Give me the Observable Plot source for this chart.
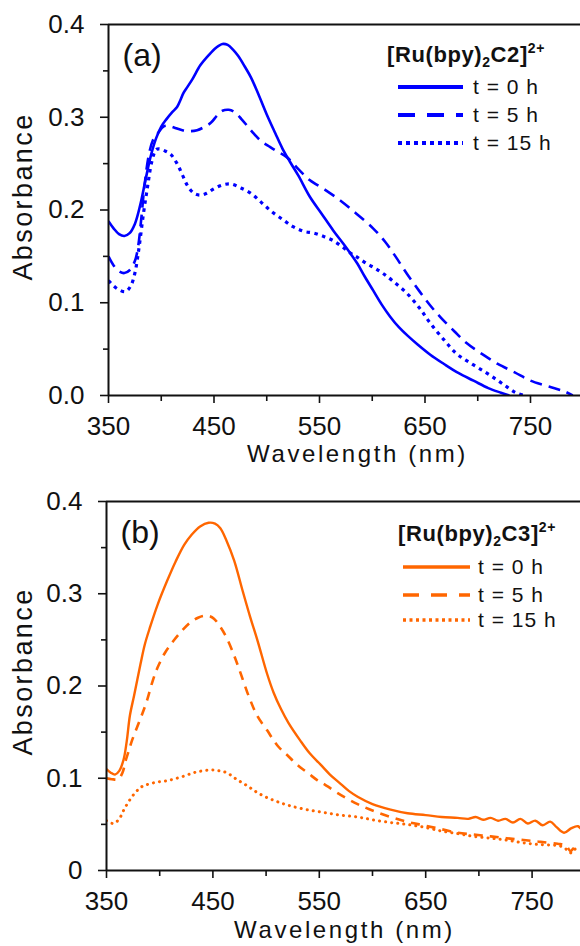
<!DOCTYPE html>
<html><head><meta charset="utf-8">
<script src="https://cdn.jsdelivr.net/npm/d3@7"></script>
<script src="https://cdn.jsdelivr.net/npm/@observablehq/plot@0.6"></script>
<style>
html,body{margin:0;padding:0;overflow:hidden;background:#fff;}
#chart svg{display:block;}
</style></head><body><div id="chart"></div>
<script>
// ---------- Data: panel (a) [Ru(bpy)2C2]2+ ----------
const wlA0  = [350,355,360,365,370,375,380,385,390,395,400,405,410,415,418,421,425,430,437,445,452,458,463,468,473,479,485,492,500,508,515,522,530,541,552,563,573,580,586,593,601,609,617,625,634,643,655,668,682,696,710,722,730];
const absA0 = [0.188,0.180,0.174,0.172,0.175,0.185,0.205,0.232,0.258,0.277,0.290,0.298,0.305,0.311,0.318,0.326,0.333,0.342,0.356,0.367,0.375,0.379,0.378,0.373,0.366,0.355,0.343,0.325,0.303,0.283,0.266,0.252,0.237,0.214,0.196,0.178,0.163,0.152,0.142,0.128,0.113,0.098,0.085,0.074,0.064,0.055,0.044,0.034,0.024,0.016,0.008,0.003,0.0];
const wlA5  = [350,355,360,365,370,375,378,381,384,388,392,397,402,406,412,420,428,434,440,447,453,458,464,469,476,482,488,495,503,510,519,530,541,555,570,585,601,612,622,633,645,655,665,678,690,705,719,735,750,763,775,783,790];
const absA5 = [0.150,0.140,0.134,0.132,0.135,0.145,0.160,0.190,0.225,0.258,0.275,0.283,0.290,0.291,0.289,0.286,0.285,0.286,0.289,0.294,0.302,0.307,0.308,0.306,0.298,0.290,0.282,0.274,0.268,0.263,0.257,0.244,0.232,0.222,0.210,0.196,0.180,0.166,0.150,0.131,0.112,0.097,0.084,0.069,0.056,0.044,0.034,0.025,0.016,0.011,0.007,0.004,0.0];
const wlA15  = [350,355,360,366,371,375,379,383,387,391,395,398,403,409,415,420,425,431,437,443,450,458,466,475,485,495,505,516,525,535,545,555,563,572,580,586,595,603,611,620,633,645,655,668,680,693,706,718,728,736,744];
const absA15 = [0.124,0.118,0.114,0.112,0.118,0.132,0.160,0.195,0.225,0.252,0.265,0.266,0.264,0.260,0.250,0.238,0.226,0.218,0.216,0.218,0.223,0.227,0.228,0.224,0.218,0.208,0.198,0.189,0.182,0.177,0.175,0.171,0.167,0.160,0.153,0.149,0.142,0.137,0.131,0.123,0.110,0.094,0.078,0.060,0.045,0.035,0.026,0.017,0.009,0.003,0.0];

// ---------- Data: panel (b) [Ru(bpy)2C3]2+ ----------
const wlB0  = [350,354,358,362,366,369,372,376,382,386,391,398,407,415,423,430,438,446,452,457,463,470,478,485,492,501,507,514,521,532,541,551,560,570,578,586,600,617,633,650,665,680,690,697,704,711,718,725,732,739,746,753,760,767,773,780,787,793,796];
const absB0 = [0.110,0.106,0.104,0.108,0.120,0.140,0.168,0.190,0.224,0.245,0.264,0.288,0.314,0.335,0.353,0.364,0.373,0.377,0.376,0.371,0.357,0.336,0.303,0.275,0.249,0.213,0.193,0.175,0.160,0.141,0.127,0.115,0.104,0.094,0.086,0.080,0.072,0.066,0.062,0.060,0.058,0.057,0.056,0.058,0.055,0.057,0.054,0.056,0.052,0.056,0.051,0.054,0.049,0.053,0.047,0.041,0.046,0.048,0.045];
const wlB5  = [350,355,361,365,368,371,374,379,384,388,393,398,405,413,421,429,436,441,446,451,457,463,470,476,484,492,501,506,511,516,520,526,532,540,548,554,570,586,600,617,632,648,664,680,695,711,726,742,758,774,782,786,789,793,796];
const absB5 = [0.100,0.099,0.099,0.106,0.119,0.130,0.141,0.156,0.171,0.184,0.204,0.220,0.236,0.249,0.260,0.269,0.274,0.276,0.276,0.273,0.264,0.252,0.233,0.214,0.188,0.167,0.152,0.143,0.135,0.129,0.125,0.118,0.112,0.105,0.098,0.094,0.082,0.072,0.065,0.058,0.053,0.049,0.045,0.041,0.039,0.037,0.035,0.033,0.031,0.029,0.027,0.021,0.024,0.027,0.026];
const wlB15  = [350,353,357,362,366,371,376,381,385,391,398,405,413,422,432,440,449,456,463,472,482,491,501,512,523,538,554,570,586,600,617,632,648,664,680,695,711,726,742,758,774,780,784,787,790,795];
const absB15 = [0.054,0.052,0.051,0.056,0.065,0.075,0.083,0.089,0.092,0.094,0.096,0.097,0.099,0.102,0.106,0.108,0.109,0.108,0.106,0.099,0.092,0.085,0.079,0.074,0.070,0.066,0.063,0.060,0.058,0.055,0.052,0.050,0.047,0.043,0.040,0.037,0.035,0.033,0.030,0.028,0.027,0.025,0.021,0.019,0.023,0.025];

// ---------- Ticks / labels ----------
const seriesNames = ["t = 0 h", "t = 5 h", "t = 15 h"];
const xMajor = [350, 450, 550, 650, 750];
const xMinor = [400, 500, 600, 700];
const yMajor = [0, 0.1, 0.2, 0.3, 0.4];
const yMinor = [0.05, 0.15, 0.25, 0.35];
const yLabelsA = ["0.0", "0.1", "0.2", "0.3", "0.4"];
const yLabelsB = ["0", "0.1", "0.2", "0.3", "0.4"];

const FONT = '"Liberation Sans", Arial, Helvetica, sans-serif';

function panel(cfg) {
  const rows = [];
  cfg.series.forEach((s, i) => s.wl.forEach((w, j) => rows.push({series: seriesNames[i], wl: w, abs: s.abs[j]})));
  const lineMarks = seriesNames.map((name, i) => Plot.line(rows.filter(r => r.series === name), {
    x: "wl", y: "abs", stroke: cfg.color, strokeWidth: cfg.styles[i].width,
    strokeDasharray: cfg.styles[i].dash, strokeLinecap: cfg.styles[i].cap || "butt",
    curve: "catmull-rom", clip: true
  }));
  const svg = Plot.plot({
    width: 580, height: cfg.height,
    marginTop: cfg.marginTop, marginBottom: cfg.marginBottom, marginLeft: cfg.marginLeft, marginRight: 0,
    style: {fontFamily: FONT, fontSize: "26px", color: "#111", background: "#fff", overflow: "hidden"},
    x: {domain: [350, cfg.xMax]},
    y: {domain: [0, 0.4]},
    marks: [
      ...lineMarks,
      Plot.axisX(xMajor, {tickSize: 8, tickPadding: 13, strokeWidth: 1.6, label: null, tickFormat: d => String(d), fill: "#111"}),
      Plot.axisX(xMinor, {tickSize: 6, tickFormat: () => "", label: null, strokeWidth: 1.6}),
      Plot.axisY(yMajor, {tickSize: 8, tickPadding: 16, strokeWidth: 1.6, label: null, tickFormat: d => cfg.yLabels[yMajor.indexOf(d)], fill: "#111"}),
      Plot.axisY(yMinor, {tickSize: 5, tickFormat: () => "", label: null, strokeWidth: 1.6}),
      Plot.ruleY([0], {strokeWidth: 2, stroke: "#111"}),
      Plot.ruleY([0.4], {strokeWidth: 2, stroke: "#111"}),
      Plot.ruleX([350], {strokeWidth: 2, stroke: "#111"}),
      Plot.text([cfg.panelLabel], {frameAnchor: "top-left", dx: 14, dy: 19, textAnchor: "start", lineAnchor: "top", fontSize: 32, text: d => d, fill: "#111"}),
      Plot.text(["Absorbance"], {frameAnchor: "left", dx: cfg.absDx, dy: cfg.absDy, rotate: -90, textAnchor: "middle", lineAnchor: "middle", text: d => d, fontSize: 27, fill: "#111"}),
      Plot.text(["Wavelength (nm)"], {frameAnchor: "bottom", dx: cfg.wlDx, dy: cfg.wlDy, textAnchor: "middle", text: d => d, fontSize: 24, lineAnchor: "middle", fill: "#111"})
    ]
  });
  const s = d3.select(svg);
  s.selectAll("text").filter(function() { return this.textContent === "Absorbance"; }).attr("letter-spacing", "2.4px");
  s.selectAll("text").filter(function() { return this.textContent === "Wavelength (nm)"; }).attr("letter-spacing", "2.6px");

  // legend
  const L = cfg.legend;
  const g = s.append("g").attr("font-family", FONT).attr("fill", "#111").attr("text-anchor", "start");
  const t = g.append("text").attr("x", L.titleX).attr("y", L.titleY).attr("font-size", 22).attr("font-weight", "bold").attr("letter-spacing", "0.6px");
  t.append("tspan").text("[Ru(bpy)");
  t.append("tspan").attr("font-size", 14).attr("dy", 5).text("2");
  t.append("tspan").attr("dy", -5).text(cfg.complex + "]");
  t.append("tspan").attr("font-size", 14).attr("dy", -9).text("2+");
  seriesNames.forEach((name, i) => {
    const y = L.rowY[i];
    g.append("line").attr("x1", L.lineX1).attr("x2", L.lineX2).attr("y1", y).attr("y2", y)
      .attr("stroke", cfg.color).attr("stroke-width", L.styles[i].width)
      .attr("stroke-dasharray", L.styles[i].dash || null);
    g.append("text").attr("x", L.textX).attr("y", y).attr("dy", "0.35em").attr("font-size", 21)
      .attr("letter-spacing", "1px").text(name);
  });
  return svg;
}

const blue = "#0000ff", orange = "#ff6600";

const svgA = panel({
  series: [{wl: wlA0, abs: absA0}, {wl: wlA5, abs: absA5}, {wl: wlA15, abs: absA15}],
  color: blue, complex: "C2", panelLabel: "(a)", yLabels: yLabelsA,
  height: 470, marginTop: 24, marginBottom: 75, marginLeft: 108, xMax: 797.4,
  absDx: -85, absDy: -13.5, wlDx: 13, wlDy: 59,
  styles: [{width: 2.6}, {width: 2.6, dash: "12,7"}, {width: 3.2, dash: "3.5,4.5"}],
  legend: {titleX: 387, titleY: 62, lineX1: 398, lineX2: 463, textX: 473, rowY: [87, 115, 143],
    styles: [{width: 4}, {width: 4, dash: "17,12"}, {width: 4, dash: "4,4"}]}
});
const svgB = panel({
  series: [{wl: wlB0, abs: absB0}, {wl: wlB5, abs: absB5}, {wl: wlB15, abs: absB15}],
  color: orange, complex: "C3", panelLabel: "(b)", yLabels: yLabelsB,
  height: 476, marginTop: 31, marginBottom: 76, marginLeft: 106, xMax: 795.5,
  absDx: -83, absDy: -14.5, wlDx: 1, wlDy: 60,
  styles: [{width: 2.4}, {width: 2.6, dash: "9,7"}, {width: 3, dash: "0.1,6", cap: "round"}],
  legend: {titleX: 398, titleY: 71, lineX1: 403, lineX2: 470, textX: 478, rowY: [97, 125, 150],
    styles: [{width: 3.5}, {width: 3.5, dash: "16,12"}, {width: 3.5, dash: "3,3.5"}]}
});
document.getElementById("chart").append(svgA, svgB);
</script></body></html>
